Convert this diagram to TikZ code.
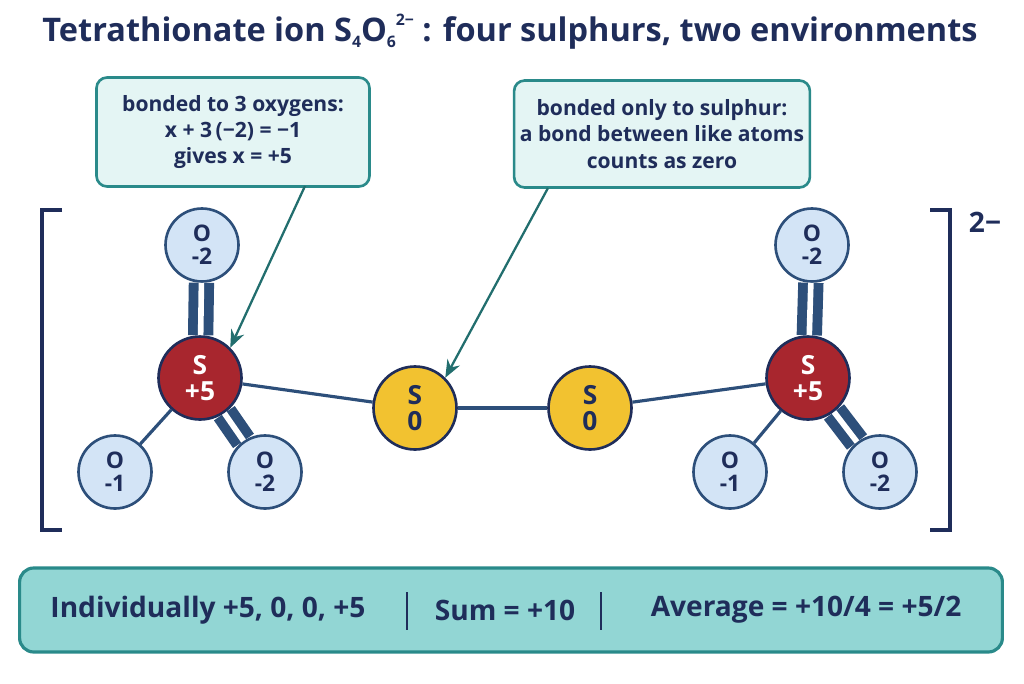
\documentclass[tikz,border=0pt]{standalone}
\usepackage{fontspec}
\setmainfont{Open Sans}
\usetikzlibrary{arrows.meta}
\definecolor{navy}{HTML}{1F2D5A}
\definecolor{teal1}{HTML}{2A8A8A}
\definecolor{calfill}{HTML}{E4F5F4}
\definecolor{redS}{HTML}{A8262E}
\definecolor{yelS}{HTML}{F2C230}
\definecolor{ofill}{HTML}{D3E4F6}
\definecolor{oline}{HTML}{2D4F7A}
\definecolor{barfill}{HTML}{92D6D4}
\begin{document}
\begin{tikzpicture}[x=0.02cm,y=-0.02cm,
 callout/.style={draw=teal1,fill=calfill,line width=1.5pt,rounded corners=6pt,align=center,text=navy,font=\bfseries\fontsize{12}{15}\selectfont},
 redatom/.style={circle,draw=navy,line width=1.5pt,fill=redS,minimum size=1.66cm,inner sep=0pt,align=center,text=white,font=\bfseries\fontsize{15}{15}\selectfont},
 yelatom/.style={circle,draw=navy,line width=1.5pt,fill=yelS,minimum size=1.66cm,inner sep=0pt,align=center,text=navy,font=\bfseries\fontsize{15}{15}\selectfont},
 oatom/.style={circle,draw=oline,line width=1.5pt,fill=ofill,minimum size=1.46cm,inner sep=0pt,align=center,text=navy,font=\bfseries\fontsize{13}{13}\selectfont},
 bond/.style={draw=oline,line width=1.8pt},
 dbond/.style={draw=oline,line width=5.6pt,double=white,double distance=3.2pt},
 ptr/.style={draw=teal1!80!black,line width=1.3pt,-{Stealth[length=10pt,width=8pt]}},
 brk/.style={draw=navy,line width=2.5pt},
 bartext/.style={text=navy,font=\bfseries\fontsize{16}{18}\selectfont}]
\useasboundingbox (0,0) rectangle (1024,683);
\node[text=navy,font=\bfseries\fontsize{18.5}{20}\selectfont] (title) at (510,32) {Tetrathionate ion S\raisebox{-0.3ex}{\small 4}O\raisebox{-0.3ex}{\small 6}\raisebox{0.9ex}{\small 2−} : four sulphurs, two environments};
% callouts
\node[callout,minimum width=5.46cm,minimum height=2.18cm] (c1) at (233,132) {bonded to 3 oxygens:\\ x + 3\,(−2) = −1\\ gives x = +5};
\node[callout,minimum width=5.9cm,minimum height=2.14cm] (c2) at (662,134) {bonded only to sulphur:\\ a bond between like atoms\\ counts as zero};
% brackets
\draw[brk] (62,210) -- (42,210) -- (42,530) -- (62,530);
\draw[brk] (930,210) -- (950,210) -- (950,530) -- (930,530);
\node[text=navy,font=\bfseries\fontsize{16}{18}\selectfont] (charge) at (985,222) {2−};
% atoms
\node[redatom] (SL) at (200,378) {S\\+5};
\node[oatom] (OL1) at (202,245) {O\\-2};
\node[oatom] (OL2) at (115,472) {O\\-1};
\node[oatom] (OL3) at (265,472) {O\\-2};
\node[yelatom] (S1) at (415,408) {S\\0};
\node[yelatom] (S2) at (590,408) {S\\0};
\node[redatom] (SR) at (808,378) {S\\+5};
\node[oatom] (OR1) at (812,245) {O\\-2};
\node[oatom] (OR2) at (730,472) {O\\-1};
\node[oatom] (OR3) at (880,472) {O\\-2};
% bonds
\draw[dbond] (SL) -- (OL1);
\draw[bond] (SL) -- (OL2);
\draw[dbond] (SL) -- (OL3);
\draw[bond] (SL) -- (S1);
\draw[bond] (S1) -- (S2);
\draw[bond] (S2) -- (SR);
\draw[dbond] (SR) -- (OR1);
\draw[bond] (SR) -- (OR2);
\draw[dbond] (SR) -- (OR3);
% pointers
\coordinate (p1) at (305,186);
\coordinate (p2) at (548,188);
\draw[ptr] (p1) -- (SL.north east);
\draw[ptr] (p2) -- (S1.north east);
% bottom bar
\node[draw=teal1,fill=barfill,line width=1.8pt,rounded corners=8pt,minimum width=19.66cm,minimum height=1.68cm] (bar) at (511,610) {};
\node[bartext] (t1) at (208,610) {Individually +5, 0, 0, +5};
\node[bartext] (t2) at (505,610) {Sum = +10};
\node[bartext] (t3) at (806,610) {Average = +10/4 = +5/2};
\draw[navy,line width=1.2pt] (407,592) -- (407,630);
\draw[navy,line width=1.2pt] (601,592) -- (601,630);
\end{tikzpicture}
\end{document}
